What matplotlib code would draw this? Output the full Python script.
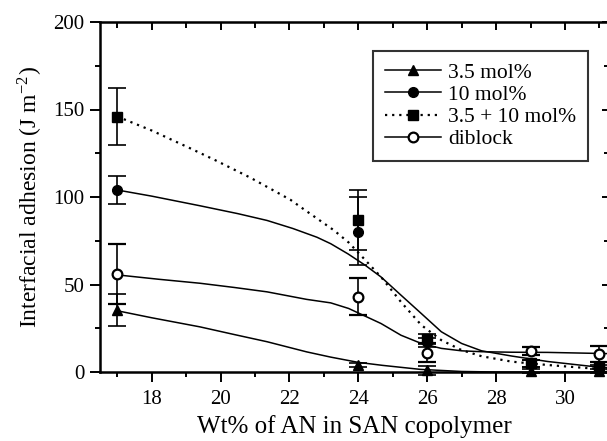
import matplotlib
matplotlib.use('Agg')
import matplotlib.pyplot as plt
from matplotlib.lines import Line2D
from matplotlib.ticker import MultipleLocator

plt.rcParams['font.family'] = ['Liberation Serif', 'DejaVu Serif']
plt.rcParams['mathtext.fontset'] = 'stix'

# measured points
x_pts = [17, 24, 26, 29, 31]
tri_y = [35.5, 4, 1, 0.5, 0.5]
tri_err = [9, 1, 2.5, 1, 1]
circ_y = [104, 80, 17, 5, 2]
circ_err_lo = [8, 19, 2.5, 2, 2]
circ_err_hi = [8, 20, 2.5, 2, 2]
sq_y = [146, 87, 19, 5, 3]
sq_err = [16.5, 17, 3, 2, 3]
dib_y = [56, 43, 11, 12, 10.5]
dib_err = [17, 10.5, 5.5, 2.5, 4.5]

# fitted curves
tri_fit_x = [17, 18, 19.4, 20.4, 21.35, 22.5, 23.2, 24, 24.7, 25.8, 27, 28, 31.25]
tri_fit_y = [35, 31, 25.8, 21.4, 17.3, 11.5, 8.5, 5.5, 3.8, 1.5, 0.3, 0, 0]

circ_fit_x = [17, 18, 19.4, 20.5, 21.35, 22.1, 22.8, 23.2, 23.7, 24.2, 24.66, 25.24,
              25.83, 26.41, 27.0, 27.58, 28.46, 29.5, 30.87, 31.25]
circ_fit_y = [104, 100.5, 95, 90.5, 86.6, 82, 77, 73.3, 67.5, 61, 54.3, 43.9,
              33.4, 23, 16.3, 12.1, 9.1, 6, 3, 2.5]

sq_fit_x = [17, 18, 19.1, 19.85, 20.87, 22.03, 22.33, 23.29, 23.72, 24.2, 24.66, 25.24,
            25.83, 26.41, 27.0, 27.58, 28.46, 29.5, 30.6, 31.25]
sq_fit_y = [146, 138, 128, 121, 111, 98.4, 94.2, 81, 74, 64, 54.3, 40,
            26.8, 18.2, 12.5, 9, 5.9, 4, 2.3, 1.5]

dib_fit_x = [17, 18.2, 19.41, 20.4, 21.35, 22.5, 23.2, 23.72, 24.66, 25.24, 25.83,
             26.41, 27.0, 27.58, 28.46, 29.5, 31.25]
dib_fit_y = [55.5, 53, 50.7, 48.3, 45.8, 41.5, 39.5, 36.3, 27.7, 21, 16.3,
             13.5, 12.1, 11.6, 11.3, 11.2, 10.5]

labels = ['3.5 mol%', '10 mol%', '3.5 + 10 mol%', 'diblock']

fig = plt.figure(figsize=(6.07, 4.41), dpi=100)
ax = fig.add_axes([100 / 607, 69 / 441, 508 / 607, 350 / 441])

lw = 1.1
ax.plot(tri_fit_x, tri_fit_y, color='k', lw=lw)
ax.plot(circ_fit_x, circ_fit_y, color='k', lw=lw)
ax.plot(sq_fit_x, sq_fit_y, color='k', lw=1.6, ls=(0, (1, 2.2)))
ax.plot(dib_fit_x, dib_fit_y, color='k', lw=lw)

eb = dict(ls='none', color='k', ecolor='k', elinewidth=1.2, capsize=6.3, capthick=1.2,
          markersize=7, clip_on=False, zorder=3)
ax.errorbar(x_pts, tri_y, yerr=tri_err, marker='^', mfc='k', **eb)
ax.errorbar(x_pts, circ_y, yerr=[circ_err_lo, circ_err_hi], marker='o', mfc='k', **eb)
ax.errorbar(x_pts, sq_y, yerr=sq_err, marker='s', mfc='k', **eb)
ax.errorbar(x_pts, dib_y, yerr=dib_err, marker='o', mfc='white', mew=1.6, **eb)

ax.set_xlim(16.5, 31.25)
ax.set_ylim(0, 200)
ax.xaxis.set_major_locator(MultipleLocator(2))
ax.xaxis.set_minor_locator(MultipleLocator(1))
ax.yaxis.set_major_locator(MultipleLocator(50))
ax.yaxis.set_minor_locator(MultipleLocator(25))
ax.tick_params(which='major', direction='out', length=7, width=1.4, labelsize=15)
ax.tick_params(axis='x', which='major', pad=6)
ax.tick_params(axis='y', which='major', pad=4)
ax.tick_params(which='minor', direction='out', length=3.8, width=1.4)
for s in ax.spines.values():
    s.set_linewidth(1.8)

# inward ticks on top and right
top = ax.secondary_xaxis('top')
top.xaxis.set_major_locator(MultipleLocator(2))
top.xaxis.set_minor_locator(MultipleLocator(1))
top.tick_params(which='major', direction='in', length=6, width=1.4, labeltop=False)
top.tick_params(which='minor', direction='in', length=4, width=1.4)
right = ax.secondary_yaxis('right')
right.yaxis.set_major_locator(MultipleLocator(50))
right.yaxis.set_minor_locator(MultipleLocator(25))
right.tick_params(which='major', direction='in', length=4, width=1.4, labelright=False)
right.tick_params(which='minor', direction='in', length=3, width=1.4)

ax.set_xlabel('Wt% of AN in SAN copolymer', fontsize=18, labelpad=4)
ax.set_ylabel('Interfacial adhesion (J m$^{\\mathregular{-2}}$)', fontsize=17, labelpad=6)

handles = [
    Line2D([], [], color='k', lw=lw, marker='^', markersize=7, mfc='k'),
    Line2D([], [], color='k', lw=lw, marker='o', markersize=7, mfc='k'),
    Line2D([], [], color='k', lw=1.6, ls=(0, (1, 2.2)), marker='s', markersize=7, mfc='k'),
    Line2D([], [], color='k', lw=lw, marker='o', markersize=7, mfc='white', mew=1.6),
]
leg = ax.legend(handles, labels, loc='upper left', bbox_to_anchor=(0.537, 0.918),
                borderaxespad=0, fontsize=15.5, frameon=True, fancybox=False,
                handlelength=2.6, handletextpad=0.35, labelspacing=0.1,
                borderpad=0.55, edgecolor='k')
leg.get_frame().set_linewidth(1.5)

fig.savefig('out.png', dpi=100)
